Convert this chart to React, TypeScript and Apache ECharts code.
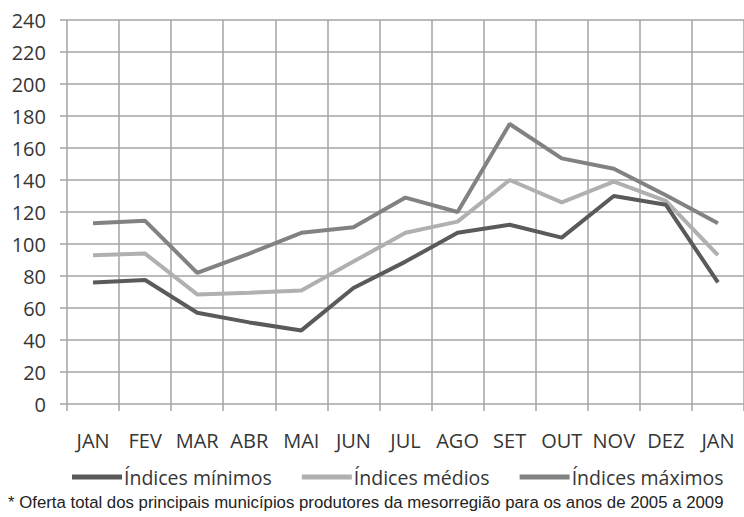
import React, { useEffect, useRef } from "react";
import * as echarts from "echarts";

const months = ["JAN", "FEV", "MAR", "ABR", "MAI", "JUN", "JUL", "AGO", "SET", "OUT", "NOV", "DEZ", "JAN"];
const minimos = [76, 77.5, 57, 51, 46, 72.5, 89, 107, 112, 104, 130, 124.5, 76];
const medios = [93, 94, 68.5, 69.5, 71, 89, 107, 114, 140, 126, 139, 127, 93];
const maximos = [113, 114.5, 82, 94, 107, 110.5, 129, 120, 175, 153.5, 147, 130.5, 113];
const yTicks = { min: 0, max: 240, interval: 20 };
const seriesNames = ["Índices mínimos", "Índices médios", "Índices máximos"];
const footnote = "* Oferta total dos principais municípios produtores da mesorregião para os anos de 2005 a 2009";

const colors = ["#5a5a5a", "#b0b0b0", "#828282"];
const gridColor = "#a3a3a3";
const labelFont = "'Open Sans', sans-serif";
const textColor = "#363636";

export default function App() {
  const ref = useRef<HTMLDivElement>(null);
  useEffect(() => {
    if (!ref.current) return;
    const chart = echarts.init(ref.current, null, { renderer: "svg" });
    const dataSets = [minimos, medios, maximos];
    chart.setOption({
      animation: false,
      backgroundColor: "#ffffff",
      grid: { left: 67, top: 20, width: 687, height: 384 },
      legend: {
        data: seriesNames,
        left: 67,
        top: 462,
        icon: "rect",
        itemWidth: 50,
        itemHeight: 5,
        itemGap: 30,
        textStyle: { fontSize: 19.5, fontFamily: labelFont, color: textColor, padding: [0, 0, 0, -3] },
      },
      xAxis: {
        type: "category",
        data: months,
        boundaryGap: true,
        axisLine: { show: false },
        axisTick: { show: true, length: 7, lineStyle: { color: gridColor, width: 1.5 } },
        splitLine: { show: true, lineStyle: { color: gridColor, width: 1.5 } },
        axisLabel: { fontSize: 20, fontFamily: labelFont, color: textColor, margin: 26, interval: 0 },
      },
      yAxis: {
        type: "value",
        min: yTicks.min,
        max: yTicks.max,
        interval: yTicks.interval,
        axisLine: { show: false },
        axisTick: { show: true, length: 7, lineStyle: { color: gridColor, width: 1.5 } },
        splitLine: { show: true, lineStyle: { color: gridColor, width: 1.5 } },
        axisLabel: { fontSize: 20, fontFamily: labelFont, color: textColor, margin: 21 },
      },
      graphic: [
        {
          type: "text",
          left: 8,
          top: 494,
          style: {
            text: footnote,
            fontSize: 16.8,
            fontFamily: "'Liberation Sans', Arial, sans-serif",
            fill: "#222222",
          },
        },
      ],
      series: dataSets.map((d, i) => ({
        name: seriesNames[i],
        type: "line",
        data: d,
        symbol: "none",
        lineStyle: { color: colors[i], width: 4 },
        itemStyle: { color: colors[i] },
        z: 3 + (i === 0 ? 2 : i === 2 ? 1 : 0),
      })),
    });
    return () => chart.dispose();
  }, []);
  return <div ref={ref} style={{ position: "absolute", left: 0, top: 0, width: 744, height: 517 }} />;
}
